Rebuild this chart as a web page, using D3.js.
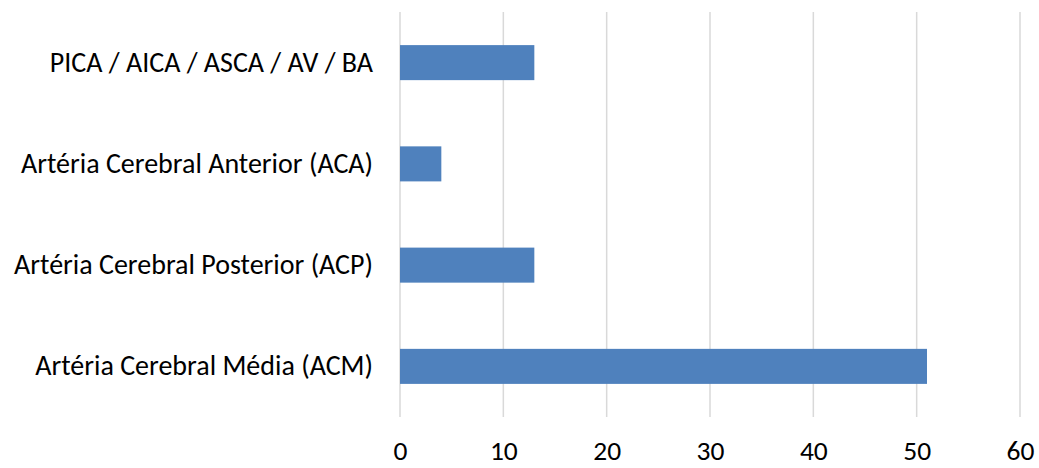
<!DOCTYPE html>
<html>
<head>
<meta charset="utf-8">
<script src="https://cdn.jsdelivr.net/npm/d3@7"></script>
<style>
  html, body { margin: 0; padding: 0; background: #fff; }
  svg text { font-family: Carlito, "Open Sans", sans-serif; fill: #000; }
</style>
</head>
<body>
<svg id="chart" width="1039" height="468"></svg>
<script>
// Categories, top to bottom
const categories = [
  "PICA / AICA / ASCA / AV / BA",
  "Artéria Cerebral Anterior (ACA)",
  "Artéria Cerebral Posterior (ACP)",
  "Artéria Cerebral Média (ACM)"
];
const values = [13, 4, 13, 51];
const xTicks = [0, 10, 20, 30, 40, 50, 60];

const svg = d3.select("#chart");
const margin = { top: 12, right: 19, bottom: 51, left: 400 };
const width = 1039 - margin.left - margin.right;
const height = 468 - margin.top - margin.bottom;

const g = svg.append("g").attr("transform", `translate(${margin.left},${margin.top})`);

const x = d3.scaleLinear().domain([0, 60]).range([0, width]);
const y = d3.scaleBand().domain(categories).range([0, height]).paddingInner(0.654).paddingOuter(0.327);

// vertical gridlines
g.selectAll("line.grid").data(xTicks).join("line")
  .attr("class", "grid")
  .attr("x1", d => x(d)).attr("x2", d => x(d))
  .attr("y1", 0).attr("y2", height)
  .attr("stroke", "#d9d9d9").attr("stroke-width", 1.5);

// bars
g.selectAll("rect.bar").data(values).join("rect")
  .attr("class", "bar")
  .attr("x", x(0))
  .attr("y", (d, i) => y(categories[i]))
  .attr("width", d => x(d) - x(0))
  .attr("height", y.bandwidth())
  .attr("fill", "#4f81bd");

// x tick labels
const xAxis = g.append("g").attr("transform", `translate(0,${height})`)
  .call(d3.axisBottom(x).tickValues(xTicks).tickSize(0).tickPadding(23));
xAxis.select(".domain").remove();
xAxis.selectAll("text").style("font-size", "27.5px").attr("fill", "#000");

// category labels
const yAxis = g.append("g")
  .call(d3.axisLeft(y).tickSize(0).tickPadding(27));
yAxis.select(".domain").remove();
yAxis.selectAll("text").style("font-size", "28px").attr("fill", "#000");
</script>
</body>
</html>
